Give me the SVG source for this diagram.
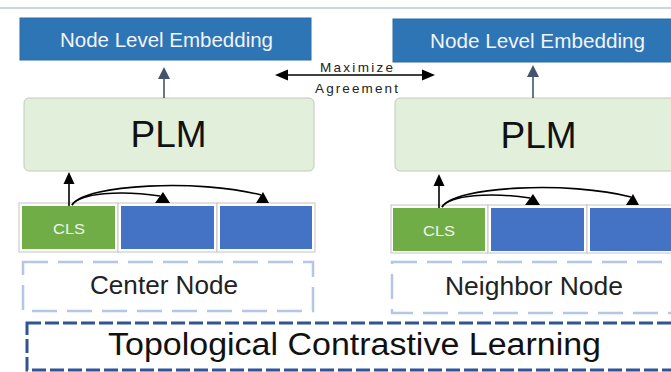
<svg xmlns="http://www.w3.org/2000/svg" width="671" height="372" viewBox="0 0 671 372">
  <style>
    text { font-family: "Liberation Sans", Arial, sans-serif; }
    .emb { fill: #2e75b6; stroke: #2a6aa6; stroke-width: 1; }
    .emb-t { fill: #f2f4f8; font-size: 20.5px; text-anchor: middle; }
    .plm { fill: #e2efda; stroke: #c3cabd; stroke-width: 1; }
    .plm-t { fill: #111; font-size: 37px; text-anchor: middle; }
    .cell { fill: #ffffff; stroke: #c4c4c4; stroke-width: 1; }
    .cls { fill: #70ad47; }
    .tok { fill: #4472c4; }
    .cls-t { fill: #eef5e8; font-size: 15.5px; text-anchor: middle; }
    .node { fill: none; stroke: #b4c7e7; stroke-width: 2.5; stroke-dasharray: 25 10; }
    .node-t { fill: #222; font-size: 26px; text-anchor: middle; }
    .topo { fill: none; stroke: #2f5597; stroke-width: 3; stroke-dasharray: 14 4; }
    .topo-t { fill: #111; font-size: 31px; text-anchor: middle; }
    .wire { fill: none; stroke: #000; stroke-width: 1.6; }
    .up { fill: none; stroke: #44546a; stroke-width: 1.6; }
    .small-t { fill: #222; font-size: 13.5px; text-anchor: middle; }
  </style>

  <!-- header rule -->
  <line x1="0" y1="8" x2="671" y2="8" stroke="#c8d6e8" stroke-width="2"/>

  <!-- left branch -->
  <g id="center-embedding">
    <rect class="emb" x="20" y="18" width="291" height="42"/>
    <text class="emb-t" x="166.5" y="47" textLength="213" lengthAdjust="spacingAndGlyphs">Node Level Embedding</text>
  </g>
  <g id="center-plm">
    <rect class="plm" x="24" y="98" width="290" height="73" rx="5"/>
    <text class="plm-t" x="168.5" y="147">PLM</text>
  </g>
  <g id="center-tokens">
    <rect class="cell" x="19" y="203" width="99" height="49"/>
    <rect class="cell" x="118" y="203" width="99" height="49"/>
    <rect class="cell" x="217" y="203" width="98" height="49"/>
    <rect class="cls" x="22" y="206" width="93" height="43"/>
    <rect class="tok" x="121" y="206" width="93" height="43"/>
    <rect class="tok" x="220" y="206" width="92" height="43"/>
    <text class="cls-t" x="69" y="234" textLength="32" lengthAdjust="spacingAndGlyphs">CLS</text>
  </g>
  <g id="center-node">
    <rect class="node" x="23" y="262" width="290" height="49"/>
    <text class="node-t" x="164" y="294" textLength="148" lengthAdjust="spacingAndGlyphs">Center Node</text>
  </g>

  <!-- right branch -->
  <g id="neighbor-embedding">
    <rect class="emb" x="393" y="19" width="290" height="43"/>
    <text class="emb-t" x="537.5" y="48" textLength="215" lengthAdjust="spacingAndGlyphs">Node Level Embedding</text>
  </g>
  <g id="neighbor-plm">
    <rect class="plm" x="395" y="98" width="290" height="73" rx="5"/>
    <text class="plm-t" x="538.5" y="148">PLM</text>
  </g>
  <g id="neighbor-tokens">
    <rect class="cell" x="391" y="205" width="97" height="48"/>
    <rect class="cell" x="488" y="205" width="99" height="48"/>
    <rect class="cell" x="587" y="205" width="99" height="48"/>
    <rect class="cls" x="393" y="208" width="92" height="43"/>
    <rect class="tok" x="491" y="208" width="93" height="43"/>
    <rect class="tok" x="590" y="208" width="93" height="43"/>
    <text class="cls-t" x="439" y="236" textLength="32" lengthAdjust="spacingAndGlyphs">CLS</text>
  </g>
  <g id="neighbor-node">
    <rect class="node" x="392" y="262" width="300" height="51"/>
    <text class="node-t" x="534" y="295" textLength="178" lengthAdjust="spacingAndGlyphs">Neighbor Node</text>
  </g>

  <!-- objective -->
  <g id="contrastive-learning">
    <rect class="topo" x="27" y="323" width="670" height="47"/>
    <text class="topo-t" x="354.5" y="355" textLength="493" lengthAdjust="spacingAndGlyphs">Topological Contrastive Learning</text>
  </g>

  <g id="agreement-label">
    <text class="small-t" x="356.5" y="72" textLength="73" lengthAdjust="spacing">Maximize</text>
    <text class="small-t" x="356.5" y="93" textLength="83" lengthAdjust="spacing">Agreement</text>
  </g>

  <!-- connectors -->
  <g id="connectors">
    <!-- PLM to embedding -->
    <line class="up" x1="164" y1="98" x2="164" y2="76"/>
    <polygon points="164,67 158,79 170,79" fill="#44546a"/>
    <line class="up" x1="533" y1="98" x2="533" y2="74"/>
    <polygon points="533,65 527,77 539,77" fill="#44546a"/>

    <!-- maximize agreement -->
    <line class="wire" x1="285" y1="75" x2="425" y2="75"/>
    <polygon points="275,75 288,69.5 288,80.5" fill="#000"/>
    <polygon points="435,75 422,69.5 422,80.5" fill="#000"/>

    <!-- CLS to PLM -->
    <line class="wire" x1="69" y1="206" x2="69" y2="183"/>
    <polygon points="69,172 63.5,184 74.5,184" fill="#000"/>
    <line class="wire" x1="439" y1="208" x2="439" y2="185"/>
    <polygon points="439,174 433.5,186 444.5,186" fill="#000"/>

    <!-- CLS attends to tokens (center) -->
    <path class="wire" d="M72,205 C80,193 120,190 160,196"/>
    <polygon points="155,203 170,203 163,192" fill="#000"/>
    <path class="wire" d="M72,205 C85,184 200,179 261,195"/>
    <polygon points="256,203 269,203 263,192" fill="#000"/>

    <!-- CLS attends to tokens (neighbor) -->
    <path class="wire" d="M442,207 C450,195 490,192 530,198"/>
    <polygon points="525,205 540,205 533,194" fill="#000"/>
    <path class="wire" d="M442,207 C455,186 570,181 631,197"/>
    <polygon points="626,205 639,205 633,194" fill="#000"/>
  </g>
</svg>
